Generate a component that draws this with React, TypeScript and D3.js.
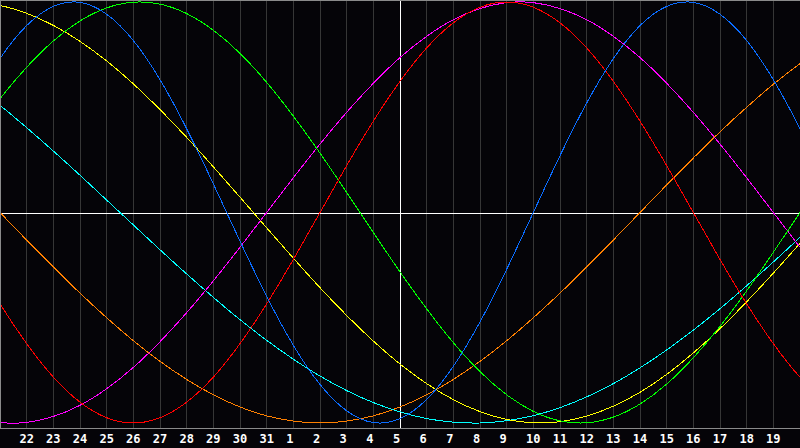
import React from 'react'
import * as d3 from 'd3'

// day labels under the grid lines (grid line i = 1..29)
const dayLabels = ['22', '23', '24', '25', '26', '27', '28', '29', '30', '31',
    '1', '2', '3', '4', '5', '6', '7', '8', '9', '10',
    '11', '12', '13', '14', '15', '16', '17', '18', '19']

// daily values from day offset -1 to 31 (left edge = 0, right edge = 30)
const physical = [0.520, 0.731, 0.888, 0.979, 0.998, 0.942, 0.817, 0.631, 0.398, 0.136, -0.136, -0.398, -0.631, -0.817, -0.942, -0.998,
    -0.979, -0.888, -0.731, -0.520, -0.270, 0, 0.270, 0.520, 0.731, 0.888, 0.979, 0.998, 0.942, 0.817, 0.631, 0.398, 0.136]
const emotional = [-0.223, -0.434, -0.623, -0.782, -0.901, -0.975, -1, -0.975, -0.901, -0.782, -0.623, -0.434, -0.223,
    0, 0.223, 0.434, 0.623, 0.782, 0.901, 0.975, 1, 0.975, 0.901, 0.782, 0.623, 0.434, 0.223, 0, -0.223, -0.434, -0.623, -0.782, -0.901]
const intellectual = [0.372, 0.541, 0.690, 0.815, 0.910, 0.972, 0.999, 0.990, 0.945, 0.866, 0.756, 0.618, 0.458, 0.282, 0.095, -0.095,
    -0.282, -0.458, -0.618, -0.756, -0.866, -0.945, -0.990, -0.999, -0.972, -0.910, -0.815, -0.690, -0.541, -0.372, -0.189, 0, 0.189]
const intuitive = [-0.969, -0.997, -0.997, -0.969, -0.916, -0.837, -0.736, -0.614, -0.476, -0.325, -0.165, 0, 0.165, 0.325, 0.476, 0.614,
    0.736, 0.837, 0.916, 0.969, 0.997, 0.997, 0.969, 0.916, 0.837, 0.736, 0.614, 0.476, 0.325, 0.165, 0, -0.165, -0.325]
const aesthetic = [0.999, 0.983, 0.946, 0.889, 0.813, 0.720, 0.611, 0.489, 0.357, 0.217, 0.073, -0.073, -0.217, -0.357, -0.489, -0.611,
    -0.720, -0.813, -0.889, -0.946, -0.983, -0.999, -0.994, -0.967, -0.920, -0.854, -0.769, -0.667, -0.552, -0.424, -0.288, -0.146, 0]
const awareness = [0.131, 0, -0.131, -0.259, -0.383, -0.5, -0.609, -0.707, -0.793, -0.866, -0.924, -0.966, -0.991, -1, -0.991, -0.966,
    -0.924, -0.866, -0.793, -0.707, -0.609, -0.5, -0.383, -0.259, -0.131, 0, 0.131, 0.259, 0.383, 0.5, 0.609, 0.707, 0.793]
const spiritual = [0.607, 0.509, 0.403, 0.292, 0.177, 0.059, -0.059, -0.177, -0.292, -0.403, -0.509, -0.607, -0.697, -0.777, -0.846, -0.903,
    -0.947, -0.979, -0.996, -1, -0.989, -0.965, -0.927, -0.876, -0.813, -0.738, -0.653, -0.559, -0.457, -0.348, -0.235, -0.118, 0]

const seriesList = [
    { name: 'awareness', values: awareness, color: '#ff8000' },
    { name: 'spiritual', values: spiritual, color: '#00ffff' },
    { name: 'aesthetic', values: aesthetic, color: '#ffff00' },
    { name: 'intuitive', values: intuitive, color: '#ff00ff' },
    { name: 'intellectual', values: intellectual, color: '#00ff00' },
    { name: 'emotional', values: emotional, color: '#ff0000' },
    { name: 'physical', values: physical, color: '#0a6cff' },
]

const W = 800
const H = 448
const plotH = 428

const App = () => {
    const x = d3.scaleLinear().domain([0, 30]).range([0, W])
    const y = d3.scaleLinear().domain([-1, 1]).range([423, 2])
    const line = d3.line<number>()
        .x((d, i) => x(i - 1))
        .y(d => y(d))
        .curve(d3.curveNatural)
    const gridDays = d3.range(1, 30)
    return (
        <svg width={W} height={H} style={{ position: 'absolute', left: 0, top: 0, display: 'block' }}>
            <defs>
                <clipPath id="plot">
                    <rect x={0} y={0} width={W} height={plotH} />
                </clipPath>
            </defs>
            <rect x={0} y={0} width={W} height={H} fill="#050408" />
            {gridDays.map(d => (
                <line key={d} x1={Math.floor(x(d)) + 0.5} x2={Math.floor(x(d)) + 0.5} y1={0} y2={plotH}
                    stroke={d === 15 ? '#ffffff' : '#363636'} strokeWidth={1} shapeRendering="crispEdges" />
            ))}
            <line x1={0} x2={W} y1={213.5} y2={213.5} stroke="#ffffff" strokeWidth={1} shapeRendering="crispEdges" />
            <g clipPath="url(#plot)">
                {seriesList.map(s => (
                    <path key={s.name} d={line(s.values) || ''} fill="none" stroke={s.color} strokeWidth={1} shapeRendering="crispEdges" />
                ))}
            </g>
            <line x1={0} x2={W} y1={0.5} y2={0.5} stroke="#8a8a8a" shapeRendering="crispEdges" />
            <line x1={0.5} x2={0.5} y1={0} y2={plotH + 1} stroke="#8a8a8a" shapeRendering="crispEdges" />
            <line x1={0} x2={W} y1={plotH + 0.5} y2={plotH + 0.5} stroke="#8a8a8a" shapeRendering="crispEdges" />
            {gridDays.map((d, i) => (
                <text key={d} x={x(d) - (dayLabels[i].length === 1 ? 3.5 : 0)} y={443} textAnchor="middle"
                    fill="#ffffff" fontFamily="'DejaVu Sans Mono', monospace" fontWeight="bold" fontSize={12}>
                    {dayLabels[i]}
                </text>
            ))}
        </svg>
    )
}

export default App
